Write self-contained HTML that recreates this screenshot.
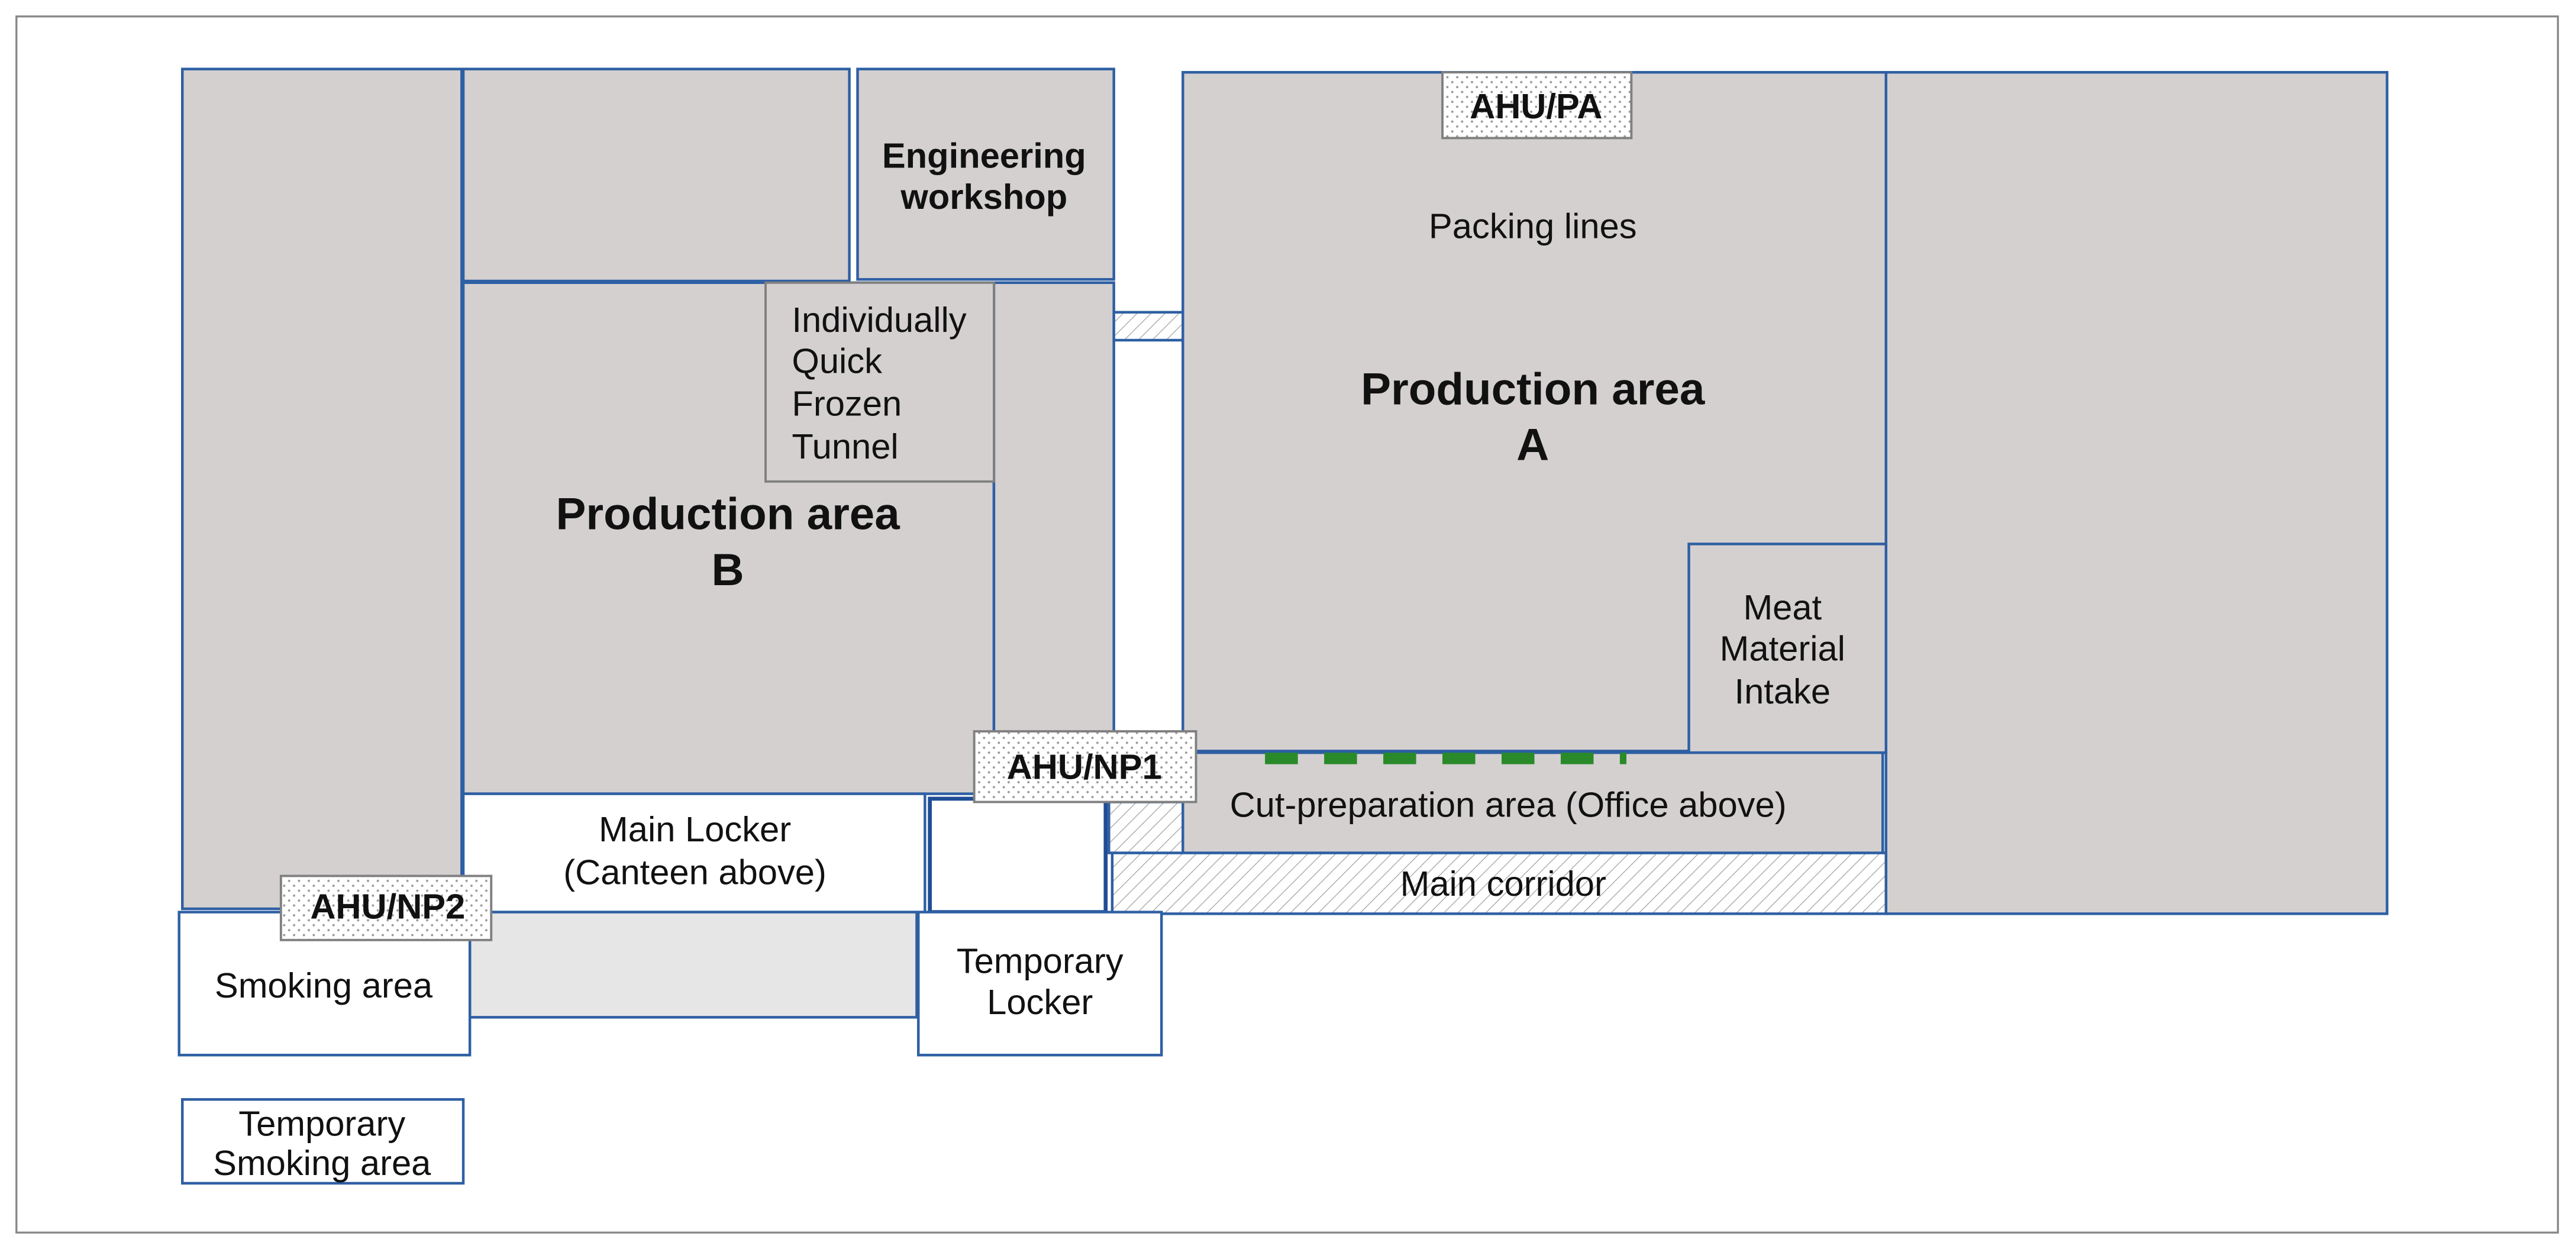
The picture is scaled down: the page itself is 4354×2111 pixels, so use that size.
<!DOCTYPE html>
<html><head><meta charset="utf-8"><style>
html,body{margin:0;padding:0;background:#fff;}
svg{display:block;}
text{font-family:"Liberation Sans",Arial,sans-serif;fill:#111;}
</style></head><body>
<svg width="4354" height="2111" viewBox="0 0 1568 760" preserveAspectRatio="none" xmlns="http://www.w3.org/2000/svg">
<defs>
<pattern id="hatch" width="6" height="6" patternUnits="userSpaceOnUse" patternTransform="rotate(45)">
<rect width="6" height="6" fill="#fff"/><line x1="0" y1="0" x2="0" y2="6" stroke="#aaa" stroke-width="1"/>
</pattern>
<pattern id="dots" width="6" height="6" patternUnits="userSpaceOnUse">
<rect width="6" height="6" fill="#fff"/><circle cx="2" cy="2" r="0.7" fill="#999"/><circle cx="5" cy="5" r="0.7" fill="#999"/>
</pattern>
</defs>
<rect x="10" y="10" width="1547" height="740" fill="#fff" stroke="#888" stroke-width="1.2"/>
<g stroke="#2e5fa3" stroke-width="1.6" fill="#d4d0d0">
<rect x="111" y="42" width="170" height="511"/>
<rect x="282" y="42" width="235" height="129"/>
<rect x="522" y="42" width="156" height="128"/>
<rect x="282" y="172" width="323" height="311"/>
<rect x="605" y="172" width="73" height="311"/>
<rect x="720" y="44" width="428" height="413"/>
<rect x="1148" y="44" width="305" height="512"/>
<rect x="1028" y="331" width="120" height="127"/>
<rect x="720" y="458" width="426" height="61"/>
<rect x="678" y="190" width="42" height="17" fill="url(#hatch)"/>
<rect x="675" y="488" width="45" height="31" fill="url(#hatch)"/>
<rect x="677" y="519" width="471" height="37" fill="url(#hatch)"/>
<rect x="282" y="483" width="281" height="72" fill="#fff"/>
<rect x="566" y="486" width="107" height="69" fill="#fff" stroke="#1f4e96" stroke-width="2.4"/>
<rect x="286" y="555" width="272" height="64" fill="#e6e6e6"/>
<rect x="109" y="555" width="177" height="87" fill="#fff"/>
<rect x="559" y="555" width="148" height="87" fill="#fff"/>
<rect x="111" y="669" width="171" height="51" fill="#fff"/>
</g>
<rect x="466" y="172" width="139" height="121" fill="#d4d0d0" stroke="#808080" stroke-width="1.4"/>
<g stroke="#808080" stroke-width="1.4" fill="url(#dots)">
<rect x="878" y="44" width="115" height="40"/>
<rect x="593" y="445" width="135" height="43"/>
<rect x="171" y="533" width="128" height="39"/>
</g>
<g fill="#2a8a2a">
<rect x="770" y="458" width="20" height="7"/><rect x="806" y="458" width="20" height="7"/>
<rect x="842" y="458" width="20" height="7"/><rect x="878" y="458" width="20" height="7"/>
<rect x="914" y="458" width="20" height="7"/><rect x="950" y="458" width="20" height="7"/>
<rect x="986" y="458" width="4" height="7"/>
</g>
<g font-size="21.5" text-anchor="middle">
<text x="599" y="102" font-weight="bold">Engineering</text>
<text x="599" y="127" font-weight="bold">workshop</text>
<text x="935" y="72" font-weight="bold">AHU/PA</text>
<text x="933" y="145">Packing lines</text>
<text x="660" y="474" font-weight="bold">AHU/NP1</text>
<text x="236" y="559" font-weight="bold">AHU/NP2</text>
<text x="1085" y="377">Meat</text>
<text x="1085" y="402">Material</text>
<text x="1085" y="428">Intake</text>
<text x="918" y="497">Cut-preparation area (Office above)</text>
<text x="915" y="545">Main corridor</text>
<text x="423" y="512">Main Locker</text>
<text x="423" y="538">(Canteen above)</text>
<text x="197" y="607">Smoking area</text>
<text x="633" y="592">Temporary</text>
<text x="633" y="617">Locker</text>
<text x="196" y="691">Temporary</text>
<text x="196" y="715">Smoking area</text>
</g>
<g font-size="21.5">
<text x="482" y="202">Individually</text>
<text x="482" y="227">Quick</text>
<text x="482" y="253">Frozen</text>
<text x="482" y="279">Tunnel</text>
</g>
<g font-size="27.5" font-weight="bold" text-anchor="middle">
<text x="443" y="322">Production area</text>
<text x="443" y="356">B</text>
<text x="933" y="246">Production area</text>
<text x="933" y="280">A</text>
</g>
</svg>
</body></html>
